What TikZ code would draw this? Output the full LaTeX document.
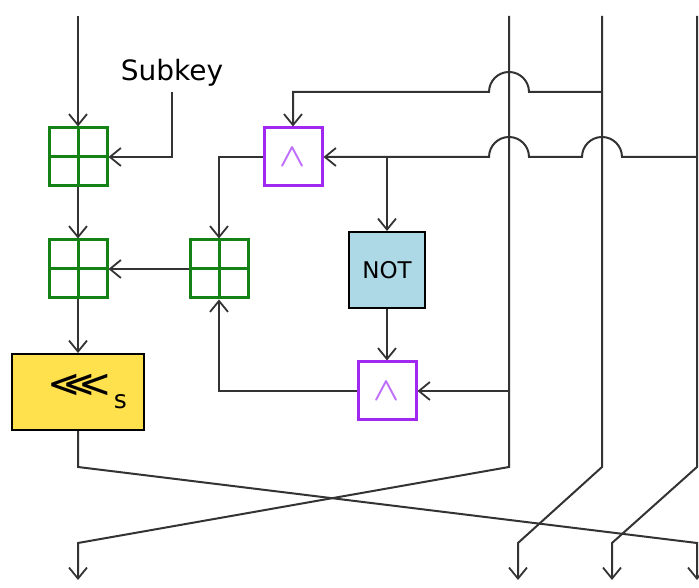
\documentclass[tikz,border=0pt]{standalone}
\usepackage{fontspec}
\setmainfont{DejaVu Sans}
\usetikzlibrary{arrows.meta}
\definecolor{gboxc}{RGB}{20,130,20}
\definecolor{pboxc}{RGB}{160,40,240}
\definecolor{pandc}{RGB}{190,110,250}
\definecolor{notc}{RGB}{173,216,230}
\definecolor{yelc}{RGB}{255,225,77}
\definecolor{wirec}{RGB}{51,51,51}
\newcommand{\andsym}{\raisebox{-9pt}{\boldmath\scalebox{3.4}[3.3]{$\wedge$}}}
\tikzset{
  wire/.style={draw=wirec,line width=2pt},
  arr/.style={wire,-{Straight Barb[length=11pt,width=18pt,line width=1.8pt]}},
  addbox/.style={draw=gboxc,line width=3pt,minimum size=58pt,inner sep=0pt,
    path picture={\draw[gboxc,line width=3pt]
      (path picture bounding box.north)--(path picture bounding box.south)
      (path picture bounding box.west)--(path picture bounding box.east);}},
  andbox/.style={draw=pboxc,line width=3pt,minimum size=58pt,inner sep=0pt,
    text=pandc},
  notbox/.style={draw=black,line width=2pt,fill=notc,minimum size=76pt,inner sep=0pt,
    font=\fontsize{23}{23}\selectfont},
  rotbox/.style={draw=black,line width=2pt,fill=yelc,minimum width=132pt,minimum height=76pt,inner sep=0pt,
    font=\fontsize{40}{40}\selectfont},
}
\begin{document}
\begin{tikzpicture}[x=1pt,y=1pt]
\useasboundingbox (0,0) rectangle (699,588);
% nodes
\node[addbox] (g1) at (78,431) {};
\node[addbox] (g2) at (78,319) {};
\node[addbox] (g3) at (219,319) {};
\node[andbox] (p1) at (293,431) {\andsym};
\node[notbox] (not) at (387,318) {NOT};
\node[andbox] (p2) at (387,197) {\andsym};
\node[rotbox] (rot) at (78,196) {\hspace*{18pt}\raisebox{1pt}{<\kern-0.45em<\kern-0.45em<}\kern2pt\raisebox{-10pt}{\fontsize{25}{25}\selectfont s}};
\node[font=\fontsize{28}{28}\selectfont,inner sep=0pt] (sub) at (172,515) {Subkey};
% coordinates
\coordinate (inL) at (78,572);
\coordinate (inA) at (509,572);
\coordinate (inB) at (602,572);
\coordinate (inC) at (697,572);
\coordinate (sk) at (172,496);
\coordinate (t1) at (602,496);
\coordinate (t2) at (697,431);
\coordinate (br) at (387,431);
\coordinate (m2) at (509,197);
\coordinate (kL) at (78,121);
\coordinate (kA) at (509,121);
\coordinate (kB) at (602,121);
\coordinate (kC) at (697,121);
\coordinate (dL) at (78,45);
\coordinate (dA) at (518,45);
\coordinate (dB) at (612,45);
\coordinate (dC) at (697,45);
\coordinate (oL) at (78,8);
\coordinate (oA) at (518,8);
\coordinate (oB) at (612,8);
\coordinate (oC) at (697,8);
% connectors
\draw[arr] (inL) -- (g1);
\draw[arr] (sk) |- (g1.east);
\draw[arr] (g1) -- (g2);
\draw[arr] (g3) -- (g2);
\draw[arr] (p1.west) -| (g3.north);
\draw[arr] (g2) -- (rot);
\draw[arr] (t1) -- (529,496) arc[start angle=0,end angle=180,radius=20pt] -| (p1.north);
\draw[arr] (t2) -- (622,431) arc[start angle=0,end angle=180,radius=20pt]
  -- (529,431) arc[start angle=0,end angle=180,radius=20pt] -- (p1.east);
\draw[arr] (br) -- (not);
\draw[arr] (not) -- (p2);
\draw[arr] (m2) -- (p2.east);
\draw[arr] (p2.west) -| (g3.south);
\draw[arr] (inA) -- (kA) -- (dL) -- (oL);
\draw[arr] (inB) -- (kB) -- (dA) -- (oA);
\draw[arr] (inC) -- (kC) -- (dB) -- (oB);
\draw[arr] (rot) -- (kL) -- (dC) -- (oC);
\end{tikzpicture}
\end{document}
